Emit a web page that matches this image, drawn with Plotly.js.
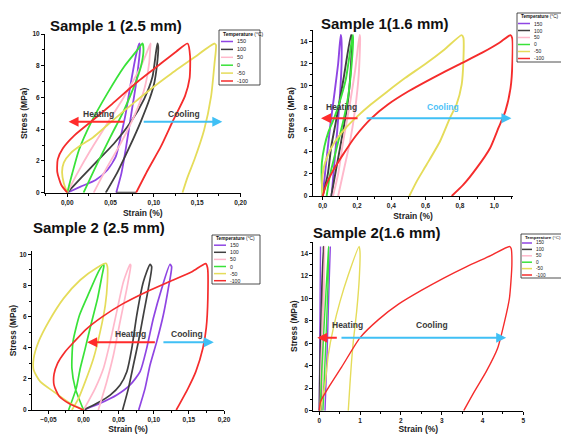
<!DOCTYPE html>
<html><head><meta charset="utf-8">
<script src="https://cdn.plot.ly/plotly-3.0.1.min.js"></script>
<style>html,body{margin:0;padding:0;background:#fff}#chart{width:561px;height:434px}</style>
</head><body><div id="chart"></div>
<script>
// ---------- categories ----------
const temps = ['150', '100', '50', '0', '-50', '-100'];
const colors = ['#8f45e3', '#404040', '#ffb8cb', '#39e239', '#e5dc5a', '#f52c2c'];
const panelTitles = ['Sample 1 (2.5 mm)', 'Sample 1(1.6 mm)', 'Sample 2 (2.5 mm)', 'Sample 2(1.6 mm)'];

// ---------- Sample 1 (2.5 mm) ----------
const p1_150_x = [0, 0.0154, 0.0328, 0.0463, 0.056, 0.0617, 0.0675, 0.0733, 0.079, 0.083, 0.084, 0.080, 0.074, 0.068, 0.0625, 0.0565];
const p1_150_y = [0, 0.38, 0.8, 1.43, 2.27, 3.53, 5.0, 6.89, 8.57, 9.41, 9.2, 7.1, 5.0, 2.9, 1.22, 0];
const p1_100_x = [0, 0.0154, 0.0347, 0.054, 0.0733, 0.0887, 0.0984, 0.104, 0.105, 0.1035, 0.1, 0.095, 0.085, 0.072, 0.058, 0.0444, null, 0.0565, 0.0795];
const p1_100_y = [0, 0.9, 2.0, 3.1, 4.45, 5.9, 7.3, 9.41, 9.2, 8.0, 6.8, 5.9, 4.5, 2.9, 1.3, 0, null, 0, 0];
const p1_50_x = [0, 0.0116, 0.027, 0.0463, 0.0656, 0.0849, 0.0945, 0.0962, 0.0958, 0.0945, 0.0887, 0.077, 0.0617, 0.0463, 0.0305];
const p1_50_y = [0, 1.22, 2.69, 4.37, 6.05, 7.94, 9.2, 9.41, 9.1, 8.15, 6.47, 4.79, 3.11, 1.64, 0];
const p1_0_x = [0, 0.0058, 0.0135, 0.027, 0.0463, 0.0656, 0.081, 0.0868, 0.088, 0.085, 0.077, 0.0656, 0.05, 0.0347, 0.0188];
const p1_0_y = [0, 1.22, 2.69, 4.37, 6.26, 7.94, 9.0, 9.41, 9.0, 7.94, 6.68, 5.21, 3.53, 1.85, 0];
const p1_m50_x = [0, -0.004, -0.006, -0.004, 0.004, 0.016, 0.03, 0.045, 0.062, 0.08, 0.098, 0.12, 0.146, 0.17, 0.1717, 0.17, 0.166, 0.158, 0.1466, 0.139, 0.133];
const p1_m50_y = [0, 0.6, 1.3, 1.9, 2.5, 3.0, 3.5, 4.2, 5.0, 5.8, 6.6, 7.5, 8.5, 9.4, 9.3, 8.15, 6.05, 3.95, 2.06, 1.0, 0];
const p1_m100_x = [0, -0.007, -0.0115, -0.011, -0.005, 0.008, 0.028, 0.052, 0.079, 0.106, 0.126, 0.139, 0.1418, 0.1412, 0.136, 0.1215, 0.108, 0.093, 0.0795];
const p1_m100_y = [0, 0.5, 1.3, 2.1, 2.8, 3.6, 4.5, 5.6, 6.9, 8.05, 8.9, 9.4, 8.6, 7.2, 6.1, 4.47, 2.9, 1.43, 0];

// ---------- Sample 1 (1.6 mm) ----------
const p2_150_x = [0, 0.02, 0.045, 0.07, 0.09, 0.105, 0.108, 0.11, 0.1, 0.085, 0.068, 0.052];
const p2_150_y = [0, 3, 6.5, 9.5, 12, 14.6, 14.4, 12, 9, 6, 3, 0];
const p2_100_x = [0, 0.03, 0.05, 0.08, 0.12, 0.165, 0.17, 0.165, 0.15, 0.12, 0.085, 0.05];
const p2_100_y = [0, 2, 4.5, 7, 10.5, 14.6, 14.3, 12, 9, 6, 3, 0];
const p2_50_x = [0.06, 0.09, 0.12, 0.16, 0.19, 0.215, 0.218, 0.21, 0.19, 0.16, 0.125, 0.09];
const p2_50_y = [0, 2, 5, 8.5, 11.5, 14.6, 14.3, 11, 8, 5, 2.5, 0];
const p2_0_x = [0, -0.006, -0.005, 0.01, 0.033, 0.065, 0.1, 0.135, 0.175, 0.177, 0.17, 0.15, 0.12, 0.082, 0.043, 0.023];
const p2_0_y = [0, 1.5, 3.0, 4.5, 5.8, 7.0, 8.6, 10.6, 14.6, 14.3, 12.2, 9.2, 6.8, 4.4, 1.94, 0];
const p2_m50_x = [0, -0.004, 0.005, 0.03, 0.07, 0.13, 0.2, 0.28, 0.37, 0.48, 0.6, 0.71, 0.81, 0.82, 0.82, 0.81, 0.78, 0.742, 0.684, 0.606, 0.548, 0.505];
const p2_m50_y = [0, 1.2, 2.5, 3.7, 4.9, 6.1, 7.2, 8.3, 9.4, 10.7, 12.0, 13.3, 14.6, 14.36, 12.24, 10.1, 8.3, 7.09, 4.97, 2.85, 1.33, 0];
const p2_m100_x = [0, 0.02, 0.06, 0.12, 0.19, 0.28, 0.38, 0.50, 0.64, 0.79, 0.93, 1.03, 1.095, 1.105, 1.106, 1.095, 1.065, 1.025, 0.976, 0.898, 0.82, 0.752];
const p2_m100_y = [0, 1.0, 2.3, 3.8, 5.4, 7.0, 8.3, 9.5, 10.7, 11.9, 13.0, 13.9, 14.6, 14.3, 12.2, 9.8, 7.7, 6.2, 4.36, 2.55, 1.03, 0];

// ---------- Sample 2 (2.5 mm) ----------
const p3_150_x = [0, 0.0237, 0.0473, 0.0663, 0.0805, 0.0899, 0.0994, 0.1113, 0.1231, 0.1254, 0.1207, 0.1136, 0.1042, 0.0947, 0.0876, 0.0785];
const p3_150_y = [0, 0.43, 0.96, 1.61, 2.46, 3.96, 5.89, 7.81, 9.36, 9.2, 7.81, 6.1, 4.39, 2.89, 1.39, 0];
const p3_100_x = [0, 0.019, 0.0379, 0.0521, 0.0616, 0.0687, 0.0758, 0.0852, 0.0947, 0.097, 0.0923, 0.0852, 0.0781, 0.071, 0.0639, 0.0556];
const p3_100_y = [0, 0.43, 0.96, 1.61, 2.46, 3.96, 6.1, 8.24, 9.36, 9.2, 7.81, 6.1, 4.39, 2.89, 1.39, 0];
const p3_50_x = [0, 0.0166, 0.0284, 0.038, 0.0473, 0.0568, 0.0663, 0.0672, 0.0616, 0.052, 0.0426, 0.033, 0.021];
const p3_50_y = [0, 1.39, 2.68, 4.39, 6.32, 8.24, 9.36, 9.3, 7.8, 5.67, 3.53, 1.82, 0];
const p3_0_x = [0, -0.0118, -0.0166, -0.015, -0.0057, 0.0085, 0.0213, 0.0284, 0.029, 0.026, 0.02, 0.0104, 0.0024, -0.0047, -0.0104, -0.0213];
const p3_0_y = [0, 1.39, 2.68, 4.39, 6.1, 7.6, 8.89, 9.36, 9.27, 8.57, 7.17, 5.46, 3.96, 2.68, 1.39, 0];
const p3_m50_x = [0, -0.019, -0.0426, -0.0616, -0.071, -0.071, -0.064, -0.0497, -0.0284, -0.0047, 0.019, 0.032, 0.034, 0.034, 0.031, 0.0237, 0.0142, 0.0024, -0.0071, -0.0166];
const p3_m50_y = [0, 0.43, 1.18, 1.82, 2.57, 3.32, 4.39, 5.67, 7.17, 8.35, 9.14, 9.42, 9.2, 8.24, 6.75, 5.03, 3.32, 1.82, 0.75, 0];
const p3_m100_x = [0, -0.02, -0.035, -0.042, -0.042, -0.037, -0.027, -0.013, 0.004, 0.027, 0.055, 0.09, 0.125, 0.155, 0.174, 0.1766, 0.177, 0.1747, 0.17, 0.16, 0.149, 0.132];
const p3_m100_y = [0, 0.4, 0.9, 1.6, 2.3, 3.0, 3.7, 4.4, 5.2, 6.0, 6.8, 7.6, 8.3, 8.9, 9.4, 9.12, 7.2, 5.27, 3.98, 2.48, 1.41, 0];

// ---------- Sample 2 (1.6 mm) ----------
const p4_150_x = [0, 0.01, 0.02, 0.03, null, 0.27, 0.23, 0.19, 0.14];
const p4_150_y = [0, 5, 10, 14.6, null, 14.6, 10, 5, 0];
const p4_100_x = [0, 0.01, 0.03, 0.06, 0.1, 0.09, 0.075, 0.06, 0.045];
const p4_100_y = [0, 3.5, 7, 11, 14.6, 11, 7, 3.5, 0];
const p4_50_x = [0.02, 0.04, 0.07, 0.1, 0.13, 0.12, 0.1, 0.085, 0.07];
const p4_50_y = [0, 3.5, 7, 11, 14.6, 11, 7, 3.5, 0];
const p4_0_x = [0.02, 0.06, 0.11, 0.17, 0.23, 0.21, 0.17, 0.13, 0.09];
const p4_0_y = [0, 3.5, 7, 11, 14.6, 11, 7, 3.5, 0];
const p4_m50_x = [0.02, 0.06, 0.139, 0.22, 0.343, 0.507, 0.71, 0.975, 0.997, 0.98, 0.915, 0.833, 0.79, 0.75, 0.71];
const p4_m50_y = [0, 0.8, 2.28, 4.95, 7.33, 9.7, 12.07, 14.6, 14.15, 11.77, 8.81, 6.14, 4.36, 2.28, 0];
const p4_m100_x = [0, 0.03, 0.25, 0.55, 1.0, 1.45, 1.95, 2.5, 3.05, 3.6, 4.2, 4.66, 4.7, 4.72, 4.66, 4.54, 4.37, 4.09, 3.8, 3.54];
const p4_m100_y = [0, 0.8, 2.2, 3.9, 6.5, 8.1, 9.5, 10.7, 11.8, 12.8, 13.8, 14.6, 14.45, 12.97, 10.0, 7.92, 5.55, 3.47, 1.69, 0];

const panels = [
  {xs: [p1_150_x, p1_100_x, p1_50_x, p1_0_x, p1_m50_x, p1_m100_x], ys: [p1_150_y, p1_100_y, p1_50_y, p1_0_y, p1_m50_y, p1_m100_y]},
  {xs: [p2_150_x, p2_100_x, p2_50_x, p2_0_x, p2_m50_x, p2_m100_x], ys: [p2_150_y, p2_100_y, p2_50_y, p2_0_y, p2_m50_y, p2_m100_y]},
  {xs: [p3_150_x, p3_100_x, p3_50_x, p3_0_x, p3_m50_x, p3_m100_x], ys: [p3_150_y, p3_100_y, p3_50_y, p3_0_y, p3_m50_y, p3_m100_y]},
  {xs: [p4_150_x, p4_100_x, p4_50_x, p4_0_x, p4_m50_x, p4_m100_x], ys: [p4_150_y, p4_100_y, p4_50_y, p4_0_y, p4_m50_y, p4_m100_y]}
];

const W = 561, H = 434;
const PX = v => v / W, PY = v => 1 - v / H;
const axSuffix = ['', '2', '3', '4'];
const lineW = [1.8, 1.9, 1.7, 1.4];

const traces = [];
panels.forEach((p, i) => {
  temps.forEach((t, k) => {
    traces.push({
      type: 'scatter', mode: 'lines', name: t, showlegend: false,
      x: p.xs[k], y: p.ys[k],
      xaxis: 'x' + axSuffix[i], yaxis: 'y' + axSuffix[i],
      line: {color: colors[k], width: lineW[i], shape: 'spline', smoothing: 0.6},
      connectgaps: false, hoverinfo: 'skip'
    });
  });
});

const tickFont = {family: 'Liberation Sans, Arial, sans-serif', size: 6.5, color: '#222', weight: 'bold'};
const titleFont = {family: 'Liberation Sans, Arial, sans-serif', size: 8.5, color: '#222', weight: 'bold'};
function xa(domain, range, dtick, fmt, standoff) {
  return {domain: domain, range: range, dtick: dtick, tick0: 0, tickformat: fmt,
    showline: true, linecolor: '#000', linewidth: 1, showgrid: false, zeroline: false,
    ticks: 'outside', ticklen: 3, tickwidth: 1, tickcolor: '#000', tickfont: tickFont,
    minor: {ticks: 'outside', ticklen: 2, tickcolor: '#000', dtick: dtick / 2, showgrid: false},
    title: {text: 'Strain (%)', font: titleFont, standoff: standoff}, automargin: false, fixedrange: true};
}
function ya(domain, range, dtick, standoff) {
  return {domain: domain, range: range, dtick: dtick, tick0: 0,
    showline: true, linecolor: '#000', linewidth: 1, showgrid: false, zeroline: false,
    ticks: 'outside', ticklen: 3, tickwidth: 1, tickcolor: '#000', tickfont: tickFont,
    minor: {ticks: 'outside', ticklen: 2, tickcolor: '#000', dtick: dtick / 2, showgrid: false},
    title: {text: 'Stress (MPa)', font: titleFont, standoff: standoff}, automargin: false, fixedrange: true};
}

const layout = {
  width: W, height: H, margin: {l: 0, r: 0, t: 0, b: 0},
  paper_bgcolor: '#fff', plot_bgcolor: 'rgba(0,0,0,0)', showlegend: false,
  separators: ',.',
  xaxis:  xa([PX(45), PX(240.5)], [-0.0257, 0.2], 0.05, '.2f', 4),
  yaxis:  ya([PY(192.7), PY(34)], [0, 10], 2, 3),
  xaxis2: xa([PX(312.7), PX(513.3)], [-0.0583, 1.111], 0.2, '.1f', 4),
  yaxis2: ya([PY(196), PY(30)], [0, 15.06], 2, 4),
  xaxis3: xa([PX(32), PX(224)], [-0.0734, 0.2], 0.05, '.2f', 1),
  yaxis3: ya([PY(410), PY(251.2)], [0, 10.2], 2, 1),
  xaxis4: xa([PX(313.3), PX(523.3)], [-0.147, 5.0], 1, 'd', 4),
  yaxis4: ya([PY(410.7), PY(241.7)], [0, 15.03], 2, 1),
  annotations: [], shapes: []
};
['x', 'x2', 'x3', 'x4'].forEach((a, i) => { layout['yaxis' + axSuffix[i]].anchor = a; layout['xaxis' + axSuffix[i]].anchor = 'y' + axSuffix[i]; });

// panel titles
const titlePos = [[116, 26], [385, 24], [99, 228], [377, 232]];
panelTitles.forEach((t, i) => {
  layout.annotations.push({text: t, xref: 'paper', yref: 'paper', x: PX(titlePos[i][0]), y: PY(titlePos[i][1]),
    xanchor: 'center', yanchor: 'middle', showarrow: false,
    font: {family: 'Liberation Sans, Arial, sans-serif', size: 15, color: '#111', weight: 'bold'}});
});

// heating / cooling arrows and labels
const arrowSpec = [
  {heat: [0.0671, 0.0015], cool: [0.0865, 0.179], y: 4.47, ty: 4.96, hx: 0.036, cx: 0.135, ccol: '#3a3a3a'},
  {heat: [0.212, -0.01], cool: [0.247, 1.10], y: 7.06, ty: 8.06, hx: 0.11, cx: 0.70, ccol: '#4fc3f7'},
  {heat: [0.1037, 0.0051], cool: [0.1116, 0.1855], y: 4.35, ty: 4.86, hx: 0.0668, cx: 0.147, ccol: '#3a3a3a'},
  {heat: [0.466, -0.05], cool: [0.507, 4.58], y: 6.49, ty: 7.62, hx: 0.686, cx: 2.77, ccol: '#3a3a3a'}
];
arrowSpec.forEach((s, i) => {
  const xr = 'x' + axSuffix[i], yr = 'y' + axSuffix[i];
  layout.annotations.push({xref: xr, yref: yr, axref: xr, ayref: yr, x: s.heat[1], y: s.y, ax: s.heat[0], ay: s.y,
    text: '', showarrow: true, arrowhead: 2, arrowsize: 1, arrowwidth: 2, arrowcolor: '#ff2b2b', standoff: 0});
  layout.annotations.push({xref: xr, yref: yr, axref: xr, ayref: yr, x: s.cool[1], y: s.y, ax: s.cool[0], ay: s.y,
    text: '', showarrow: true, arrowhead: 2, arrowsize: 1, arrowwidth: 2, arrowcolor: '#40c0f5', standoff: 0});
  layout.annotations.push({xref: xr, yref: yr, x: s.hx, y: s.ty, text: 'Heating', showarrow: false,
    font: {family: 'Liberation Sans, Arial, sans-serif', size: 8.5, color: '#3a3a3a', weight: 'bold'}});
  layout.annotations.push({xref: xr, yref: yr, x: s.cx, y: s.ty, text: 'Cooling', showarrow: false,
    font: {family: 'Liberation Sans, Arial, sans-serif', size: 8.5, color: s.ccol, weight: 'bold'}});
});

// legends (box, title, sample lines, labels) - pixel layout
const legSpec = [
  {box: [219, 30, 260, 85], ty: 34, y0: 41.5, step: 7.9, lx: [221, 233], tx: 235, ts: 5, fs: 5.5},
  {box: [517, 13, 563, 62], ty: 16.5, y0: 23.5, step: 7, lx: [518, 530], tx: 532, ts: 4.6, fs: 5},
  {box: [212, 235, 260, 284], ty: 238.5, y0: 245.2, step: 7.1, lx: [214, 226], tx: 228, ts: 4.8, fs: 5.2},
  {box: [521, 234, 563, 278], ty: 237, y0: 243, step: 6.4, lx: [522, 532], tx: 534, ts: 4.4, fs: 4.8}
];
legSpec.forEach(L => {
  layout.shapes.push({type: 'rect', xref: 'paper', yref: 'paper', x0: PX(L.box[0]), x1: PX(L.box[2]), y0: PY(L.box[3]), y1: PY(L.box[1]),
    line: {color: '#222', width: 0.8}, fillcolor: '#fff', layer: 'above'});
  layout.annotations.push({xref: 'paper', yref: 'paper', x: PX(L.box[0] + 1.5), y: PY(L.ty), xanchor: 'left', yanchor: 'middle',
    text: '<b>Temperature</b> (°C)', showarrow: false, font: {family: 'Liberation Sans, Arial, sans-serif', size: L.ts, color: '#111'}});
  temps.forEach((t, k) => {
    const yy = L.y0 + k * L.step;
    layout.shapes.push({type: 'line', xref: 'paper', yref: 'paper', x0: PX(L.lx[0]), x1: PX(L.lx[1]), y0: PY(yy), y1: PY(yy),
      line: {color: colors[k], width: 1.5}, layer: 'above'});
    layout.annotations.push({xref: 'paper', yref: 'paper', x: PX(L.tx), y: PY(yy), xanchor: 'left', yanchor: 'middle',
      text: t, showarrow: false, font: {family: 'Liberation Sans, Arial, sans-serif', size: L.fs, color: '#222'}});
  });
});

Plotly.newPlot('chart', traces, layout, {staticPlot: true, displayModeBar: false});
</script>
</body></html>
